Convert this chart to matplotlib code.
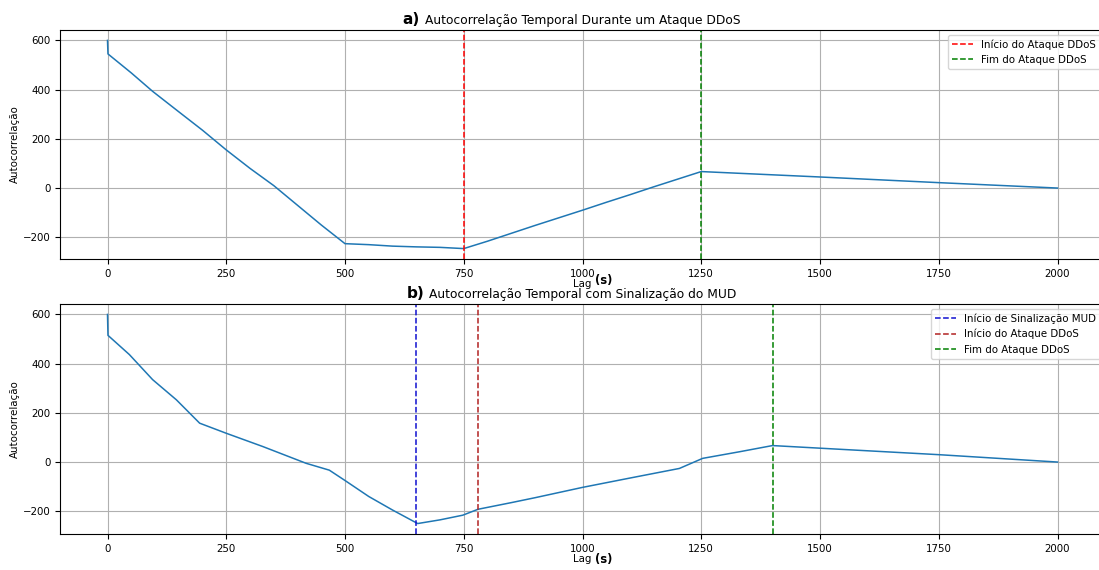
import numpy as np
import matplotlib
matplotlib.use('Agg')
import matplotlib.pyplot as plt

# a) autocorrelation during a DDoS attack (values read from the figure)
lag_a = [0, 1, 50, 95, 150, 200, 250, 300, 350, 400, 450, 500,
         550, 600, 650, 700, 750, 800, 850, 900, 950, 1000, 1050,
         1100, 1150, 1200, 1250, 1500, 1750, 2000]
acf_a = [600, 545, 468, 393, 310, 235, 155, 80, 10, -70, -150, -226,
         -230, -236, -239, -241, -246, -216, -184, -152, -121, -90, -58,
         -27, 5, 36, 67, 45, 22, 0]
attack_a = (750, 1250)

# b) autocorrelation with MUD signalling
lag_b = [0, 1, 46, 95, 145, 194, 250, 327, 418, 467, 500, 550, 600,
         653, 700, 748, 780, 850, 900, 1000, 1100, 1204, 1253, 1331,
         1400, 1541, 1750, 2000]
acf_b = [600, 515, 437, 335, 253, 158, 117, 63, -5, -33, -75, -140, -195,
         -250, -235, -216, -192, -165, -145, -103, -65, -26, 15, 42,
         67, 52, 30, 0]
mud_b = 650
attack_b = (780, 1400)

plt.rcParams['font.size'] = 7.4

fig = plt.figure(figsize=(10.99, 5.70), dpi=100)
ax1 = fig.add_axes([60 / 1099, 1 - 259 / 570, 1045 / 1099, 229 / 570])
ax2 = fig.add_axes([60 / 1099, 1 - 534 / 570, 1045 / 1099, 230 / 570])

# top panel
ax1.plot(lag_a, acf_a, color='#1f77b4', lw=1.1)
ax1.axvline(attack_a[0], color='r', ls='--', lw=1.1, label='Início do Ataque DDoS')
ax1.axvline(attack_a[1], color='g', ls='--', lw=1.1, label='Fim do Ataque DDoS')
ax1.set_title('Autocorrelação Temporal Durante um Ataque DDoS', fontsize=8.8, pad=4)
ax1.set_xlabel('Lag', labelpad=0)
ax1.set_ylabel('Autocorrelação', labelpad=2)
ax1.legend(loc='upper right')
ax1.grid(True)

# bottom panel
ax2.plot(lag_b, acf_b, color='#1f77b4', lw=1.1)
ax2.axvline(mud_b, color='#1010d0', ls='--', lw=1.1, label='Início de Sinalização MUD')
ax2.axvline(attack_b[0], color='firebrick', ls='--', lw=1.1, label='Início do Ataque DDoS')
ax2.axvline(attack_b[1], color='g', ls='--', lw=1.1, label='Fim do Ataque DDoS')
ax2.set_title('Autocorrelação Temporal com Sinalização do MUD', fontsize=8.8, pad=4)
ax2.set_xlabel('Lag', labelpad=0)
ax2.set_ylabel('Autocorrelação', labelpad=2)
ax2.legend(loc='upper right')
ax2.grid(True)

for ax in (ax1, ax2):
    ax.set_xlim(-100, 2100)
    ax.set_xticks([0, 250, 500, 750, 1000, 1250, 1500, 1750, 2000])
    ax.set_yticks([-200, 0, 200, 400, 600])

# panel letters and unit, placed as separate texts like the original
fig.text(420 / 1099, 1 - 24 / 570, 'a)', ha='right', va='baseline', fontsize=11, fontweight='bold')
fig.text(425 / 1099, 1 - 298 / 570, 'b)', ha='right', va='baseline', fontsize=11, fontweight='bold')
fig.text(595 / 1099, 1 - 284 / 570, '(s)', ha='left', va='baseline', fontsize=8.4, fontweight='bold')
fig.text(595 / 1099, 1 - 563 / 570, '(s)', ha='left', va='baseline', fontsize=8.4, fontweight='bold')

fig.savefig('out.png', dpi=100)
